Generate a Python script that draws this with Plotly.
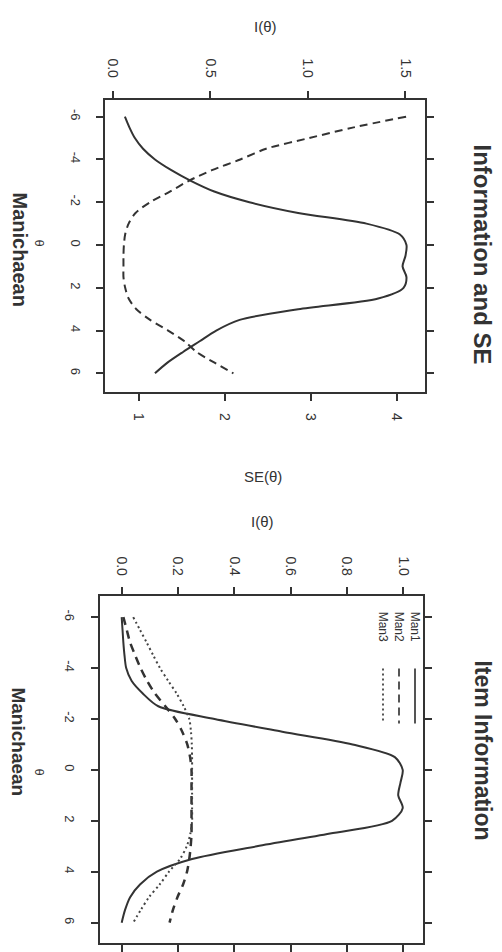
import plotly.graph_objects as go

# ---------------- data ----------------
theta = [-6, -5.5, -5, -4.5, -4, -3.5, -3, -2.5, -2, -1.5, -1, -0.5, 0,
         0.5, 1, 1.5, 2, 2.5, 3, 3.5, 4, 4.5, 5, 5.5, 6]

# Top panel: test information (solid) and standard error (dashed)
info_total = [0.062, 0.085, 0.113, 0.155, 0.216, 0.30, 0.40, 0.52, 0.70, 0.95,
              1.30, 1.47, 1.505, 1.50, 1.485, 1.505, 1.49, 1.36, 0.95, 0.65,
              0.53, 0.445, 0.36, 0.28, 0.216]
se_total = [4.11, 3.50, 2.98, 2.48, 2.18, 1.85, 1.58, 1.36, 1.13, 0.96,
            0.88, 0.84, 0.825, 0.82, 0.82, 0.82, 0.84, 0.88, 0.97, 1.13,
            1.34, 1.53, 1.67, 1.88, 2.10]

# Bottom panel: item information curves
man1 = [0.0, 0.003, 0.006, 0.010, 0.016, 0.035, 0.075, 0.13, 0.33, 0.57,
        0.82, 0.97, 0.998, 0.99, 0.982, 0.998, 0.96, 0.74, 0.48, 0.25,
        0.125, 0.065, 0.030, 0.012, 0.0]
man2 = [0.006, 0.018, 0.030, 0.048, 0.067, 0.090, 0.118, 0.155, 0.19, 0.215,
        0.233, 0.243, 0.248, 0.248, 0.248, 0.248, 0.248, 0.248, 0.245, 0.240,
        0.232, 0.218, 0.198, 0.182, 0.170]
man3 = [0.041, 0.065, 0.089, 0.112, 0.136, 0.165, 0.195, 0.22, 0.24, 0.246,
        0.249, 0.25, 0.25, 0.25, 0.25, 0.25, 0.25, 0.244, 0.231, 0.207,
        0.168, 0.135, 0.097, 0.068, 0.041]
item_names = ["Man1", "Man2", "Man3"]

theta_ticks = [-6, -4, -2, 0, 2, 4, 6]
theta_tick_text = ["-6", "-4", "-2", "0", "2", "4", "6"]
info_ticks = [0, 0.5, 1.0, 1.5]
info_tick_text = ["0.0", "0.5", "1.0", "1.5"]
se_ticks = [1, 2, 3, 4]
se_tick_text = ["1", "2", "3", "4"]
item_ticks = [0, 0.2, 0.4, 0.6, 0.8, 1.0]
item_tick_text = ["0.0", "0.2", "0.4", "0.6", "0.8", "1.0"]

# ---------------- layout helpers ----------------
W, H = 502, 952
def px(x):
    return x / W
def py(y):
    return 1 - y / H

INK = "#333333"
FONT = "Liberation Sans"

def axis_style(**kw):
    d = dict(showline=True, linecolor=INK, linewidth=2, ticks="outside",
             ticklen=7, tickwidth=1.5, tickcolor=INK, showgrid=False,
             zeroline=False, tickangle=90,
             tickfont=dict(family=FONT, size=14, color=INK))
    d.update(kw)
    return d

fig = go.Figure()

# top panel
fig.add_trace(go.Scatter(x=info_total, y=theta, xaxis="x", yaxis="y", mode="lines",
                         line=dict(color=INK, width=2, shape="spline", smoothing=0.8),
                         name="I"))
fig.add_trace(go.Scatter(x=se_total, y=theta, xaxis="x2", yaxis="y", mode="lines",
                         line=dict(color=INK, width=2, dash="8px,5px", shape="spline",
                                   smoothing=0.8),
                         name="SE"))

# bottom panel
styles = [dict(color=INK, width=2),
          dict(color=INK, width=2.5, dash="8px,6px"),
          dict(color="#444444", width=2, dash="2px,3px")]
for vals, nm, st in zip([man1, man2, man3], item_names, styles):
    fig.add_trace(go.Scatter(x=vals, y=theta, xaxis="x3", yaxis="y2", mode="lines",
                             line=dict(shape="spline", smoothing=0.8, **st), name=nm))

fig.update_layout(
    width=W, height=H, margin=dict(l=0, r=0, t=0, b=0),
    paper_bgcolor="white", plot_bgcolor="white", showlegend=False,
    xaxis=axis_style(domain=[px(105), px(425)], range=[-0.04, 1.60], side="top",
                     anchor="y", tickvals=info_ticks, ticktext=info_tick_text,
                     mirror=True, ticklabelstandoff=8),
    xaxis2=axis_style(overlaying="x", side="bottom", anchor="y",
                      range=[0.605, 4.33], tickvals=se_ticks, ticktext=se_tick_text,
                      ticklabelstandoff=9),
    yaxis=axis_style(domain=[py(393), py(100)], range=[6.88, -6.79], anchor="x",
                     tickvals=theta_ticks, ticktext=theta_tick_text, mirror="ticks",
                     ticklabelstandoff=9, tickfont=dict(family=FONT, size=13, color=INK)),
    xaxis3=axis_style(domain=[px(100), px(423)], range=[-0.077, 1.07], side="top",
                      anchor="y2", tickvals=item_ticks, ticktext=item_tick_text,
                      mirror="ticks", ticklabelstandoff=6),
    yaxis2=axis_style(domain=[py(945), py(597)], range=[6.80, -6.84], anchor="x3",
                      tickvals=theta_ticks, ticktext=theta_tick_text, mirror="ticks",
                      ticklabelstandoff=10, tickfont=dict(family=FONT, size=13, color=INK)),
)

def ann(text, x, y, size, angle=0, bold=False):
    fig.add_annotation(text=("<b>%s</b>" % text) if bold else text,
                       x=px(x), y=py(y), xref="paper", yref="paper",
                       showarrow=False, textangle=angle,
                       xanchor="center", yanchor="middle",
                       font=dict(family=FONT, size=size, color=INK))

# titles and axis labels
ann("Information and SE", 483, 255, 24, 90, True)
ann("Item Information", 483, 752, 23, 90, True)
ann("I(θ)", 265, 27, 15)
ann("SE(θ)", 263, 478, 15)
ann("I(θ)", 262, 523, 15)
ann("θ", 40, 243, 13, 90)
ann("Manichaean", 20, 250, 20, 90, True)
ann("θ", 40, 773, 13, 90)
ann("Manichaean", 19, 743, 19, 90, True)

# legend (drawn rotated like the rest of the page)
leg_x = [415, 399, 383]
leg_dash = ["solid", "8px,5px", "2px,3px"]
for nm, lx, dsh in zip(item_names, leg_x, leg_dash):
    ann(nm, lx, 628, 12, 90)
    fig.add_shape(type="line", xref="paper", yref="paper",
                  x0=px(lx), x1=px(lx), y0=py(670), y1=py(725),
                  line=dict(color="#555555", width=2, dash=dsh))

fig.write_html("out.html")
